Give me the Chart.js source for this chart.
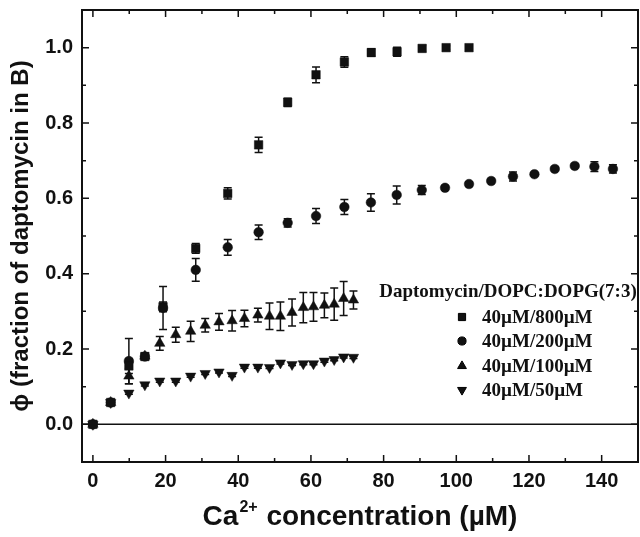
<!DOCTYPE html>
<html>
<head>
<meta charset="utf-8">
<script src="https://cdn.jsdelivr.net/npm/chart.js@4.4.1/dist/chart.umd.min.js"></script>
<style>
    html, body { margin: 0; padding: 0; background: #fff; }
    #wrap { width: 640px; height: 537px; }
</style>
</head>
<body>
<div id="wrap"><canvas id="ControlPhiCalcio" width="640" height="537"></canvas></div>
<script>
// Ca2+ concentration (uM) for each series
var xSquare = [0, 4.9, 9.9, 14.3, 19.3, 28.3, 37.1, 45.6, 53.6, 61.4, 69.2, 76.6, 83.7, 90.6, 97.2, 103.5];
var ySquare = [0, 0.058, 0.155, 0.18, 0.312, 0.467, 0.613, 0.742, 0.855, 0.928, 0.962, 0.987, 0.989, 0.998, 1.0, 1.0];
var eSquare = [0.004, 0.006, 0.02, 0.008, 0.013, 0.013, 0.015, 0.02, 0.011, 0.021, 0.014, 0.01, 0.012, 0.008, 0.005, 0.004];

var xCircle = [0, 4.9, 9.9, 14.3, 19.3, 28.3, 37.1, 45.6, 53.6, 61.4, 69.2, 76.5, 83.6, 90.5, 96.9, 103.5, 109.6, 115.6, 121.5, 127.1, 132.6, 138.0, 143.1];
var yCircle = [0, 0.058, 0.168, 0.18, 0.309, 0.41, 0.47, 0.51, 0.535, 0.553, 0.577, 0.589, 0.609, 0.622, 0.628, 0.638, 0.646, 0.658, 0.664, 0.678, 0.686, 0.684, 0.678];
var eCircle = [0.004, 0.006, 0.06, 0.008, 0.057, 0.03, 0.021, 0.019, 0.011, 0.02, 0.02, 0.023, 0.024, 0.012, 0.006, 0.006, 0.004, 0.012, 0.004, 0.005, 0.005, 0.013, 0.011];

var xTriUp = [0, 4.9, 9.9, 14.3, 18.4, 22.8, 26.9, 30.9, 34.7, 38.3, 41.7, 45.4, 48.6, 51.6, 54.8, 57.9, 60.7, 63.7, 66.4, 69.0, 71.7];
var yTriUp = [0, 0.058, 0.128, 0.181, 0.215, 0.238, 0.247, 0.263, 0.272, 0.275, 0.281, 0.29, 0.287, 0.287, 0.297, 0.31, 0.312, 0.316, 0.319, 0.334, 0.33];
var eTriUp = [0.004, 0.006, 0.02, 0.008, 0.018, 0.02, 0.027, 0.018, 0.022, 0.027, 0.022, 0.018, 0.035, 0.038, 0.036, 0.04, 0.038, 0.033, 0.043, 0.045, 0.024];

var xTriDown = [0, 4.9, 9.9, 14.3, 18.4, 22.8, 26.9, 30.9, 34.7, 38.3, 41.7, 45.4, 48.6, 51.6, 54.8, 57.9, 60.7, 63.7, 66.4, 69.0, 71.7];
var yTriDown = [0, 0.058, 0.083, 0.105, 0.115, 0.115, 0.128, 0.135, 0.139, 0.13, 0.152, 0.152, 0.151, 0.163, 0.159, 0.161, 0.161, 0.168, 0.172, 0.179, 0.178];
var eTriDown = [0.002, 0.003, 0.003, 0.003, 0.003, 0.003, 0.003, 0.003, 0.003, 0.003, 0.003, 0.003, 0.003, 0.003, 0.003, 0.003, 0.003, 0.003, 0.003, 0.003, 0.003];

var seriesLabels = ['40\u00B5M/800\u00B5M', '40\u00B5M/200\u00B5M', '40\u00B5M/100\u00B5M', '40\u00B5M/50\u00B5M'];
var legendTitle = 'Daptomycin/DOPC:DOPG(7:3)';

var xTicks = [0, 20, 40, 60, 80, 100, 120, 140];
var xMinorTicks = [10, 30, 50, 70, 90, 110, 130];
var yTicks = [0.0, 0.2, 0.4, 0.6, 0.8, 1.0];
var yMinorTicks = [-0.1, 0.1, 0.3, 0.5, 0.7, 0.9, 1.1];

var ink = '#111';

var phiChart = {

    initialize: function () {
        var datasets = [
            phiChart.buildSet(seriesLabels[0], xSquare, ySquare, eSquare, 'rect', 6, 0),
            phiChart.buildSet(seriesLabels[1], xCircle, yCircle, eCircle, 'circle', 4.8, 0),
            phiChart.buildSet(seriesLabels[2], xTriUp, yTriUp, eTriUp, 'triangle', 6, 0),
            phiChart.buildSet(seriesLabels[3], xTriDown, yTriDown, eTriDown, 'triangle', 6, 180)
        ];
        phiChart.load(datasets);
    },

    buildSet: function (label, xs, ys, errs, style, radius, rot) {
        var pts = [];
        for (var i = 0; i < xs.length; i++) {
            pts.push({ x: xs[i], y: ys[i], err: errs[i] });
        }
        return {
            label: label,
            data: pts,
            showLine: false,
            pointStyle: style,
            pointRadius: radius,
            pointRotation: rot,
            pointBackgroundColor: ink,
            pointBorderColor: ink,
            pointBorderWidth: 0.5
        };
    },

    // error bars, drawn under the markers
    errorBars: {
        id: 'errorBars',
        beforeDatasetsDraw: function (chart) {
            var ctx = chart.ctx;
            var yScale = chart.scales.y;
            ctx.save();
            ctx.strokeStyle = ink;
            ctx.lineWidth = 1.5;
            chart.data.datasets.forEach(function (ds, di) {
                var meta = chart.getDatasetMeta(di);
                meta.data.forEach(function (el, i) {
                    var p = ds.data[i];
                    var top = yScale.getPixelForValue(p.y + p.err);
                    var bot = yScale.getPixelForValue(p.y - p.err);
                    ctx.beginPath();
                    ctx.moveTo(el.x, top); ctx.lineTo(el.x, bot);
                    ctx.moveTo(el.x - 4, top); ctx.lineTo(el.x + 4, top);
                    ctx.moveTo(el.x - 4, bot); ctx.lineTo(el.x + 4, bot);
                    ctx.stroke();
                });
            });
            ctx.restore();
        }
    },

    // frame, inward ticks, zero line
    frame: {
        id: 'frame',
        beforeDatasetsDraw: function (chart) {
            var ctx = chart.ctx;
            var a = chart.chartArea;
            var xs = chart.scales.x, ys = chart.scales.y;
            ctx.save();
            ctx.strokeStyle = ink;
            ctx.lineWidth = 1.5;
            var y0 = ys.getPixelForValue(0);
            ctx.beginPath();
            ctx.moveTo(a.left, y0); ctx.lineTo(a.right, y0);
            ctx.stroke();

            ctx.beginPath();
            xTicks.forEach(function (v) {
                var px = xs.getPixelForValue(v);
                ctx.moveTo(px, a.bottom); ctx.lineTo(px, a.bottom - 7);
                ctx.moveTo(px, a.top); ctx.lineTo(px, a.top + 7);
            });
            xMinorTicks.forEach(function (v) {
                var px = xs.getPixelForValue(v);
                ctx.moveTo(px, a.bottom); ctx.lineTo(px, a.bottom - 4);
                ctx.moveTo(px, a.top); ctx.lineTo(px, a.top + 4);
            });
            yTicks.forEach(function (v) {
                var py = ys.getPixelForValue(v);
                ctx.moveTo(a.left, py); ctx.lineTo(a.left + 7, py);
                ctx.moveTo(a.right, py); ctx.lineTo(a.right - 7, py);
            });
            yMinorTicks.forEach(function (v) {
                var py = ys.getPixelForValue(v);
                ctx.moveTo(a.left, py); ctx.lineTo(a.left + 4, py);
                ctx.moveTo(a.right, py); ctx.lineTo(a.right - 4, py);
            });
            ctx.stroke();

            ctx.lineWidth = 2;
            ctx.strokeRect(a.left, a.top, a.right - a.left, a.bottom - a.top);
            ctx.restore();
        }
    },

    // x title with the superscript charge, and the legend block
    texts: {
        id: 'texts',
        afterDraw: function (chart) {
            var ctx = chart.ctx;
            var a = chart.chartArea;
            ctx.save();
            ctx.fillStyle = ink;
            ctx.textBaseline = 'alphabetic';

            var big = 'bold 28px "Liberation Sans", Arial, sans-serif';
            var small = 'bold 16px "Liberation Sans", Arial, sans-serif';
            ctx.font = big;
            var w1 = ctx.measureText('Ca').width;
            var w3 = ctx.measureText(' concentration (\u00B5M)').width;
            ctx.font = small;
            var w2 = ctx.measureText('2+').width + 2;
            var x0 = (a.left + a.right) / 2 - (w1 + w2 + w3) / 2;
            var base = 525;
            ctx.font = big;
            ctx.textAlign = 'left';
            ctx.fillText('Ca', x0, base);
            ctx.font = small;
            ctx.fillText('2+', x0 + w1 + 1, base - 13);
            ctx.font = big;
            ctx.fillText(' concentration (\u00B5M)', x0 + w1 + w2, base);

            // legend
            ctx.font = 'bold 19px "Liberation Serif", "Times New Roman", serif';
            ctx.textBaseline = 'middle';
            ctx.textAlign = 'center';
            ctx.fillText(legendTitle, 508, 292);
            ctx.textAlign = 'left';
            var rows = [317, 341, 366, 390];
            chart.data.datasets.forEach(function (ds, di) {
                Chart.helpers.drawPoint(ctx, {
                    pointStyle: ds.pointStyle,
                    radius: ds.pointRadius * 0.85,
                    rotation: ds.pointRotation,
                    borderWidth: 0.5
                }, 462, rows[di]);
                ctx.fillStyle = ink;
                ctx.fillText(ds.label, 482, rows[di] + 1);
            });
            ctx.restore();
        }
    },

    load: function (datasets) {
        var ctxL = document.getElementById('ControlPhiCalcio').getContext('2d');
        ctxL.fillStyle = ink;
        ctxL.strokeStyle = ink;
        var myChart = new Chart(ctxL, {
            type: 'scatter',
            data: { datasets: datasets },
            options: {
                responsive: false,
                animation: false,
                layout: { autoPadding: false, padding: { top: 10, right: 2, left: 0, bottom: 0 } },
                plugins: {
                    legend: { display: false },
                    tooltip: { enabled: false }
                },
                scales: {
                    x: {
                        type: 'linear',
                        min: -3,
                        max: 150,
                        grid: { display: false, drawTicks: false },
                        border: { display: false },
                        afterBuildTicks: function (scale) {
                            scale.ticks = xTicks.map(function (v) { return { value: v }; });
                        },
                        afterFit: function (scale) {
                            scale.height = 75;
                            scale.paddingLeft = 0;
                            scale.paddingRight = 0;
                        },
                        ticks: {
                            padding: 7,
                            color: ink,
                            maxRotation: 0,
                            font: { family: '"Liberation Sans", Arial, sans-serif', size: 20, weight: 'bold' }
                        }
                    },
                    y: {
                        type: 'linear',
                        min: -0.1,
                        max: 1.1,
                        grid: { display: false, drawTicks: false },
                        border: { display: false },
                        afterBuildTicks: function (scale) {
                            scale.ticks = yTicks.map(function (v) { return { value: v }; });
                        },
                        afterFit: function (scale) {
                            scale.width = 82;
                            scale.paddingTop = 0;
                            scale.paddingBottom = 0;
                        },
                        ticks: {
                            padding: 9,
                            color: ink,
                            callback: function (v) { return v.toFixed(1); },
                            font: { family: '"Liberation Sans", Arial, sans-serif', size: 20, weight: 'bold' }
                        },
                        title: {
                            display: true,
                            text: '\u03D5 (fraction of daptomycin in B)',
                            color: ink,
                            padding: { top: 7, bottom: 0 },
                            font: { family: '"Liberation Sans", Arial, sans-serif', size: 24, weight: 'bold' }
                        }
                    }
                }
            },
            plugins: [phiChart.frame, phiChart.errorBars, phiChart.texts]
        });
    }
};

phiChart.initialize();
</script>
</body>
</html>
